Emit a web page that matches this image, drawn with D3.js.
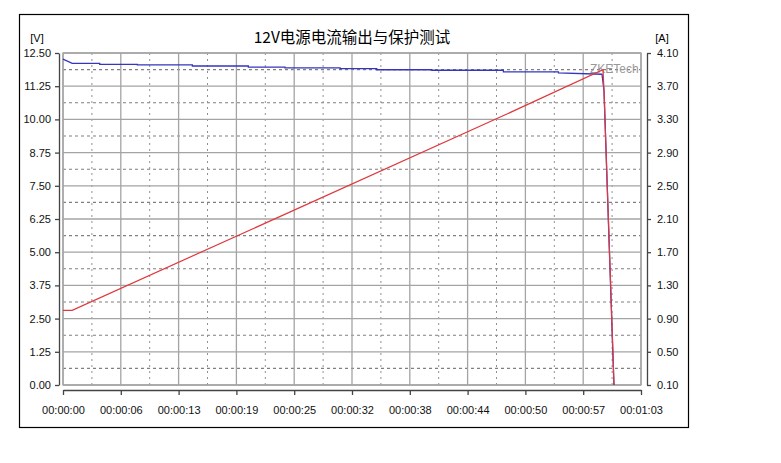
<!DOCTYPE html>
<html>
<head>
<meta charset="utf-8">
<script src="https://cdn.jsdelivr.net/npm/d3@7"></script>
<style>
  body { margin: 0; background: #fff; }
  svg text { font-family: "Liberation Sans", Arial, sans-serif; }
</style>
</head>
<body>
<svg id="chart" width="781" height="463"></svg>
<script>
// Chart data
const title = "12V电源电流输出与保护测试";

// voltage [V], left axis (steps written as duplicated points)
const voltTime  = [0, 1.0, 4.0, 4.0, 8.1, 8.1, 14.1, 14.1, 20.2, 20.2, 24.2, 24.2, 30.2, 30.2, 34.2, 34.2, 40.2, 40.2, 48.0, 48.0, 54.0, 54.0, 58.75, 58.97, 60.05];
const voltValue = [12.27, 12.11, 12.11, 12.07, 12.07, 12.05, 12.05, 12.01, 12.01, 11.97, 11.97, 11.94, 11.94, 11.91, 11.91, 11.87, 11.87, 11.85, 11.85, 11.79, 11.79, 11.75, 11.70, 11.07, 0.0];

// current [A], right axis
const currTime  = [0, 1.0, 47.3, 58.86, 58.97, 60.06];
const currValue = [1.00, 1.00, 3.31, 3.90, 3.64, 0.10];

// ticks
const xTickValues = [0, 6.3, 12.6, 18.9, 25.2, 31.5, 37.8, 44.1, 50.4, 56.7, 63];
const xTickLabels = ["00:00:00", "00:00:06", "00:00:13", "00:00:19", "00:00:25", "00:00:32", "00:00:38", "00:00:44", "00:00:50", "00:00:57", "00:01:03"];
const vTicks = [0, 1.25, 2.5, 3.75, 5, 6.25, 7.5, 8.75, 10, 11.25, 12.5];
const aTicks = [0.1, 0.5, 0.9, 1.3, 1.7, 2.1, 2.5, 2.9, 3.3, 3.7, 4.1];

const plot = { left: 63, right: 641, top: 53, bottom: 385 };

const svg = d3.select("#chart");

// outer frame
svg.append("rect")
    .attr("x", 19.5).attr("y", 14.5)
    .attr("width", 669).attr("height", 413)
    .attr("fill", "#fff").attr("stroke", "#000").attr("stroke-width", 1.2);

const x = d3.scaleLinear().domain([0, 63]).range([plot.left, plot.right]);
const yV = d3.scaleLinear().domain([0, 12.5]).range([plot.bottom, plot.top]);
const yA = d3.scaleLinear().domain([0.1, 4.1]).range([plot.bottom, plot.top]);

// grid: solid at ticks, dashed half way between
const grid = svg.append("g");
const mids = arr => arr.slice(1).map((d, i) => (d + arr[i]) / 2);

grid.selectAll(".hmid").data(mids(vTicks)).enter().append("line")
    .attr("x1", plot.left).attr("x2", plot.right)
    .attr("y1", d => yV(d)).attr("y2", d => yV(d))
    .attr("stroke", "#808080").attr("stroke-width", 1.1).attr("stroke-dasharray", "3,3");
grid.selectAll(".vmid").data(mids(xTickValues)).enter().append("line")
    .attr("y1", plot.top).attr("y2", plot.bottom)
    .attr("x1", d => x(d)).attr("x2", d => x(d))
    .attr("stroke", "#909090").attr("stroke-dasharray", "2,4");
grid.selectAll(".hmaj").data(vTicks).enter().append("line")
    .attr("x1", plot.left).attr("x2", plot.right)
    .attr("y1", d => yV(d)).attr("y2", d => yV(d))
    .attr("stroke", "#a4a4a4").attr("stroke-width", 1.3);
grid.selectAll(".vmaj").data(xTickValues).enter().append("line")
    .attr("y1", plot.top).attr("y2", plot.bottom)
    .attr("x1", d => x(d)).attr("x2", d => x(d))
    .attr("stroke", "#a4a4a4").attr("stroke-width", 1.3);

svg.append("rect")
    .attr("x", plot.left).attr("y", plot.top)
    .attr("width", plot.right - plot.left).attr("height", plot.bottom - plot.top)
    .attr("fill", "none").attr("stroke", "#a4a4a4").attr("stroke-width", 1.3);

// watermark
svg.append("text")
    .attr("x", 590).attr("y", 73)
    .attr("font-size", 12).attr("fill", "#999")
    .text("ZKETech");

// axes
function styleAxis(g) {
    g.selectAll("path, line").attr("stroke", "#444").attr("stroke-width", 1.3);
    g.selectAll("text").attr("font-size", 11).attr("fill", "#111")
        .style("font-family", "'Liberation Sans', Arial, sans-serif");
}

svg.append("g")
    .attr("transform", "translate(59,0)")
    .call(d3.axisLeft(yV).tickValues(vTicks).tickFormat(d3.format(".2f"))
        .tickSize(4).tickSizeOuter(0).tickPadding(4))
    .call(styleAxis);

svg.append("g")
    .attr("transform", "translate(647,0)")
    .call(d3.axisRight(yA).tickValues(aTicks).tickFormat(d3.format(".2f"))
        .tickSize(4).tickSizeOuter(0).tickPadding(6))
    .call(styleAxis);

svg.append("g")
    .attr("transform", "translate(0,390)")
    .call(d3.axisBottom(x).tickValues(xTickValues).tickFormat((d, i) => xTickLabels[i])
        .tickSize(5).tickSizeOuter(0).tickPadding(11))
    .call(styleAxis);

// titles and units
svg.append("text")
    .attr("x", 352).attr("y", 43)
    .attr("text-anchor", "middle")
    .attr("font-size", 15.5)
    .style("font-family", "'Noto Sans CJK SC', 'Liberation Sans', sans-serif")
    .text(title);
svg.append("text").attr("x", 37).attr("y", 42).attr("text-anchor", "middle")
    .attr("font-size", 11).text("[V]");
svg.append("text").attr("x", 662).attr("y", 42).attr("text-anchor", "middle")
    .attr("font-size", 11).text("[A]");

// series
const voltLine = d3.line().x(d => x(d[0])).y(d => yV(d[1]));
const currLine = d3.line().x(d => x(d[0])).y(d => yA(d[1]));

svg.append("path")
    .datum(voltTime.map((t, i) => [t, voltValue[i]]))
    .attr("d", voltLine)
    .attr("fill", "none").attr("stroke", "#3535c0").attr("stroke-width", 1.3);

svg.append("path")
    .datum(currTime.map((t, i) => [t, currValue[i]]))
    .attr("d", currLine)
    .attr("fill", "none").attr("stroke", "#e0383c").attr("stroke-width", 1.2);
</script>
</body>
</html>
